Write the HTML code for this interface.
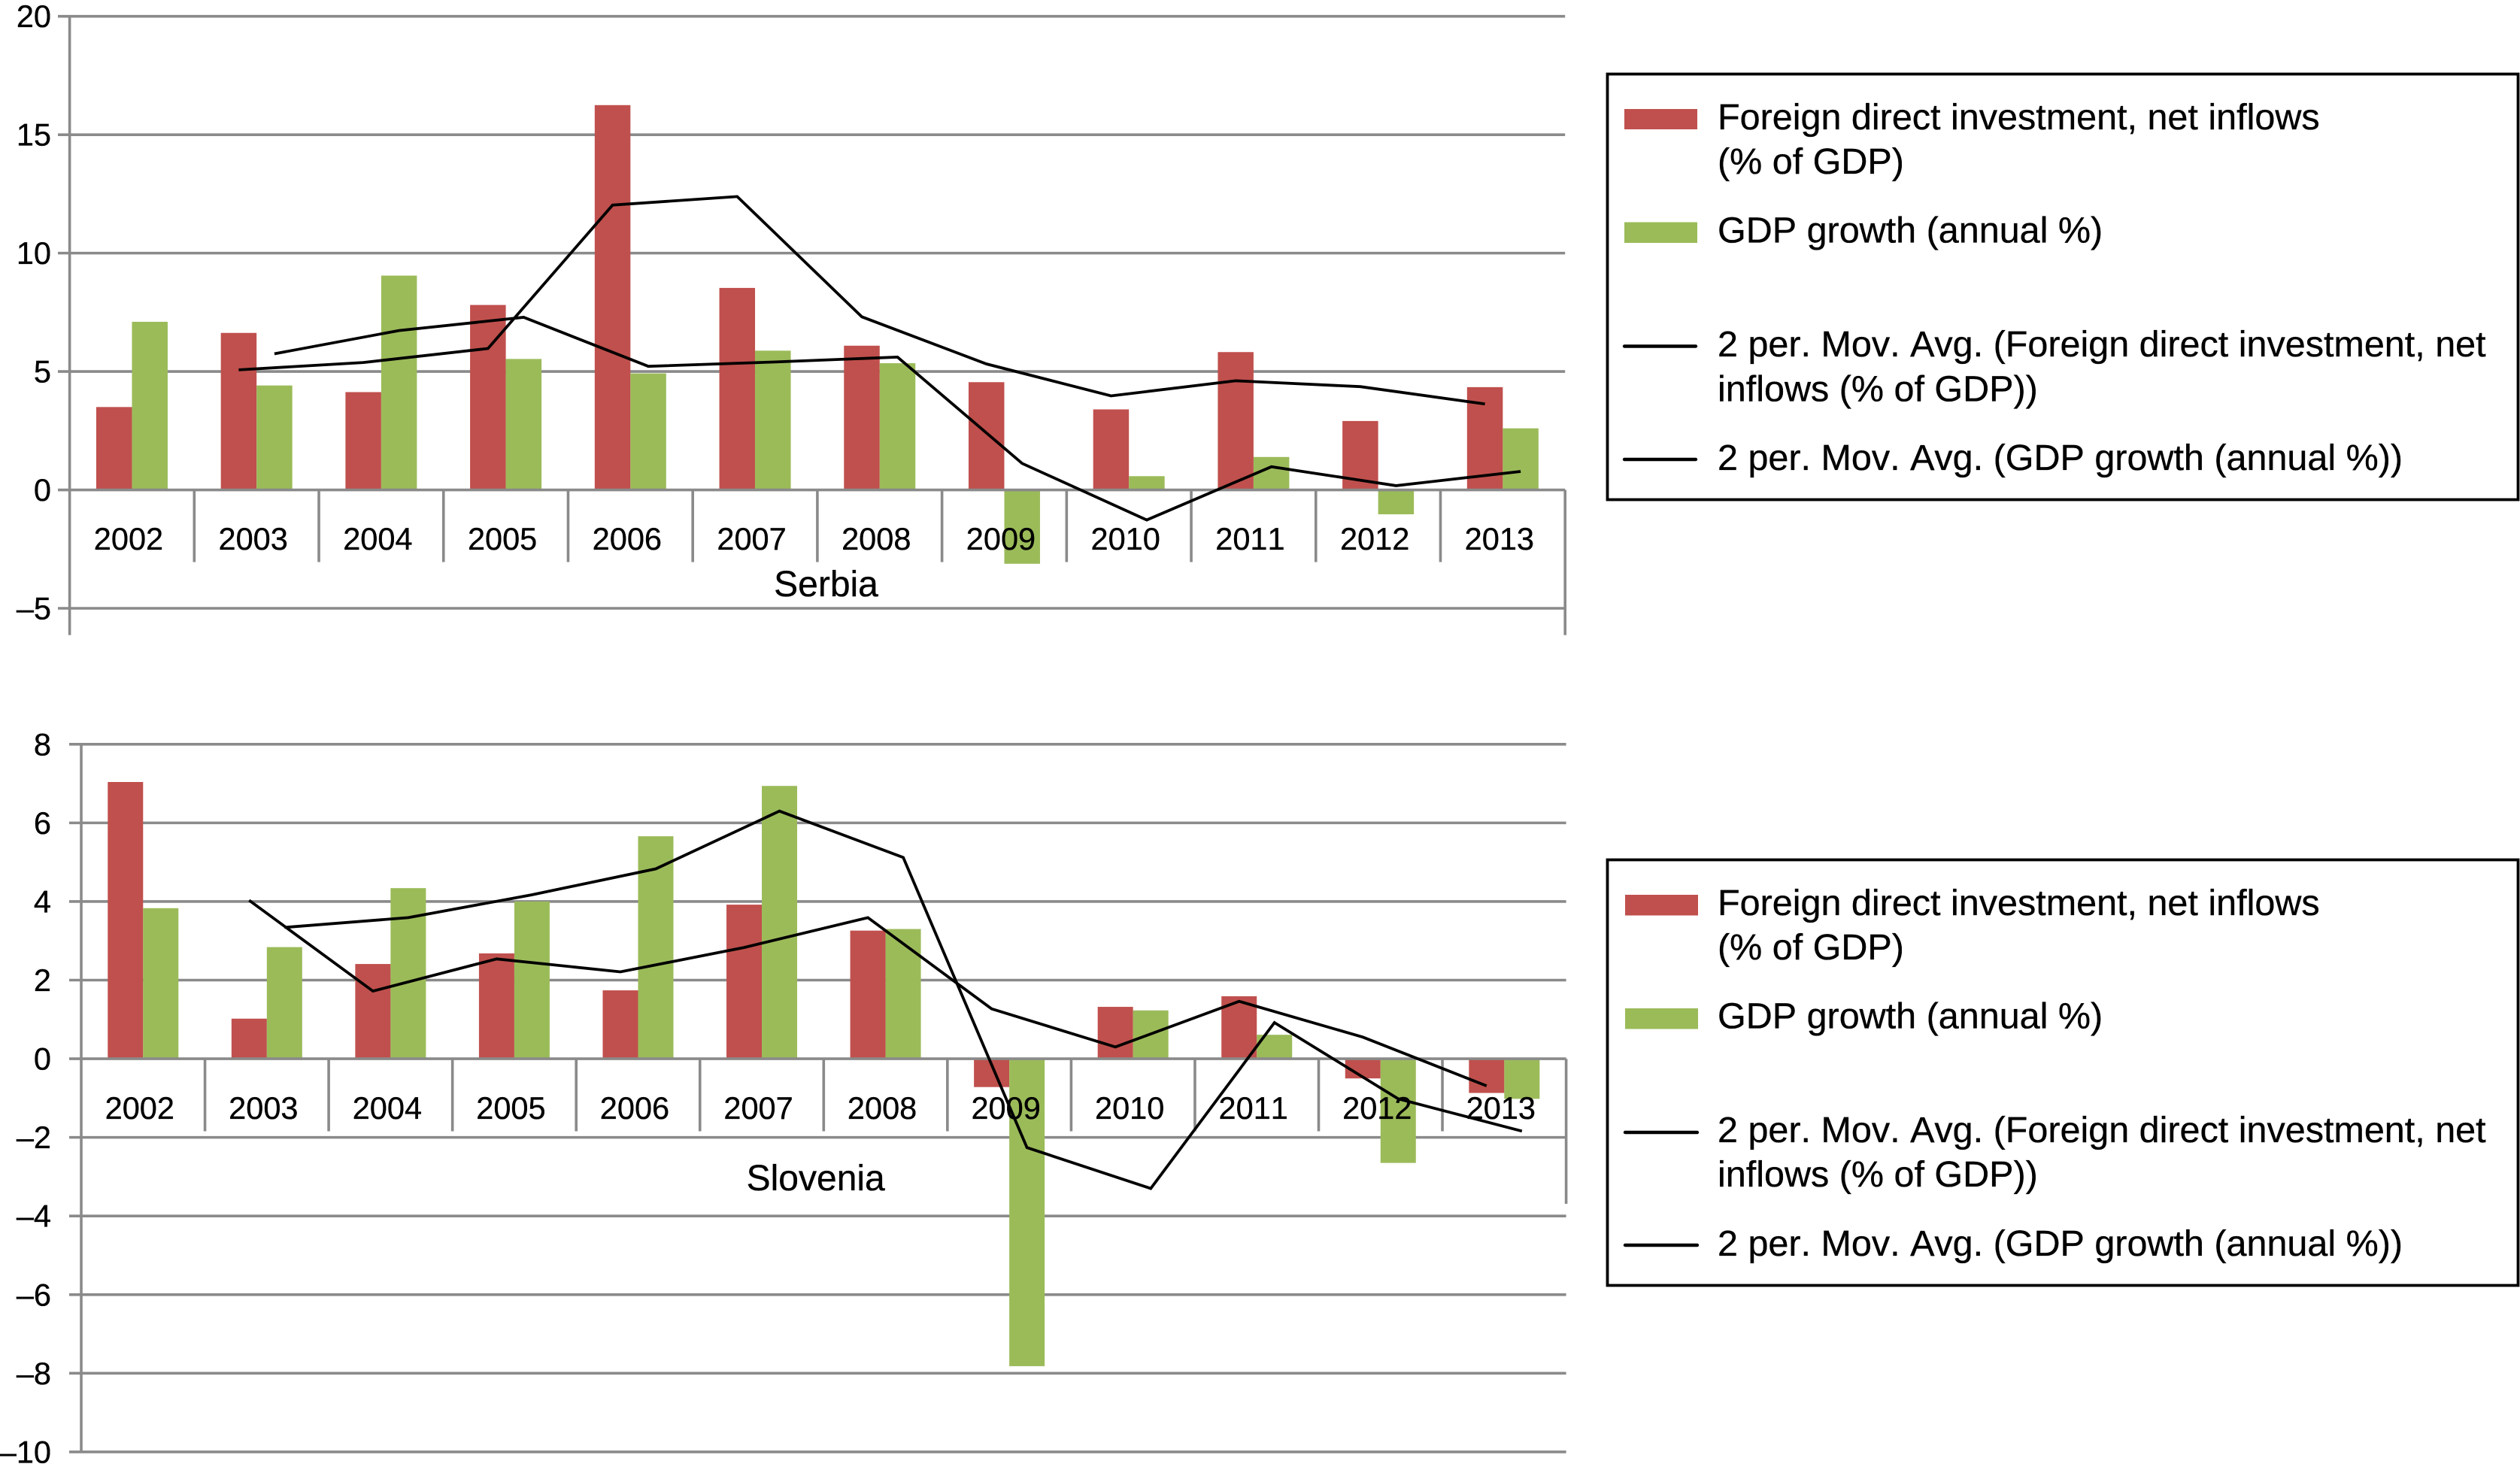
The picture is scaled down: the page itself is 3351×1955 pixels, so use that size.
<!DOCTYPE html>
<html lang="en">
<head>
<meta charset="utf-8">
<title>FDI and GDP growth: Serbia and Slovenia</title>
<style>
html,body{margin:0;padding:0;background:#fff;}
svg{display:block;font-family:"Liberation Sans",Arial,sans-serif;font-kerning:none;}
svg text{stroke:#000;stroke-width:0.35px;font-kerning:none;}
.leg{font-size:48.5px;fill:#000;}
</style>
</head>
<body>
<svg id="figure" xmlns="http://www.w3.org/2000/svg" width="3351" height="1955" viewBox="0 0 3351 1955">
  <rect x="0" y="0" width="3351" height="1955" fill="#ffffff"/>
  <g id="serbia-chart"></g>
  <g id="slovenia-chart"></g>

  <g>
    <rect x="2137.5" y="98.5" width="1211" height="566" fill="#fff" stroke="#000" stroke-width="3.8"/>
    <rect x="2160" y="145" width="97" height="27" fill="#c0504d"/>
    <text class="leg" x="2284" y="172">Foreign direct investment, net inflows</text>
    <text class="leg" x="2284" y="231">(% of GDP)</text>
    <rect x="2160" y="295.5" width="97" height="27.5" fill="#9bbb59"/>
    <text class="leg" x="2284" y="322.5">GDP growth (annual %)</text>
    <line x1="2160" x2="2255" y1="460.5" y2="460.5" stroke="#000" stroke-width="4.4" stroke-linecap="round"/>
    <text class="leg" x="2284" y="474">2 per. Mov. Avg. (Foreign direct investment, net</text>
    <text class="leg" x="2284" y="533.5">inflows (% of GDP))</text>
    <line x1="2160" x2="2255" y1="611" y2="611" stroke="#000" stroke-width="4.4" stroke-linecap="round"/>
    <text class="leg" x="2284" y="625">2 per. Mov. Avg. (GDP growth (annual %))</text>
  </g>

  <g>
    <rect x="2137.5" y="1143.5" width="1211" height="566" fill="#fff" stroke="#000" stroke-width="3.8"/>
    <rect x="2161" y="1190" width="97" height="27.5" fill="#c0504d"/>
    <text class="leg" x="2284" y="1217">Foreign direct investment, net inflows</text>
    <text class="leg" x="2284" y="1276">(% of GDP)</text>
    <rect x="2161" y="1341" width="97" height="27.5" fill="#9bbb59"/>
    <text class="leg" x="2284" y="1367.5">GDP growth (annual %)</text>
    <line x1="2161" x2="2257" y1="1506" y2="1506" stroke="#000" stroke-width="4.4" stroke-linecap="round"/>
    <text class="leg" x="2284" y="1519">2 per. Mov. Avg. (Foreign direct investment, net</text>
    <text class="leg" x="2284" y="1578">inflows (% of GDP))</text>
    <line x1="2161" x2="2257" y1="1656" y2="1656" stroke="#000" stroke-width="4.4" stroke-linecap="round"/>
    <text class="leg" x="2284" y="1670">2 per. Mov. Avg. (GDP growth (annual %))</text>
  </g>
</svg>

<script>
const categories = ["2002","2003","2004","2005","2006","2007","2008","2009","2010","2011","2012","2013"];

const serbiaTicks = [20, 15, 10, 5, 0, -5];
const serbiaFdi = [3.5, 6.63, 4.13, 7.81, 16.25, 8.53, 6.09, 4.55, 3.4, 5.82, 2.91, 4.34];
const serbiaGdp = [7.1, 4.41, 9.05, 5.53, 4.92, 5.88, 5.35, -3.12, 0.58, 1.39, -1.03, 2.6];
const serbiaFdiAvg = [null, 5.07, 5.38, 5.97, 12.03, 12.39, 7.31, 5.32, 3.97, 4.61, 4.36, 3.63];
const serbiaGdpAvg = [null, 5.75, 6.73, 7.29, 5.22, 5.4, 5.61, 1.12, -1.27, 0.98, 0.18, 0.78];

const sloveniaTicks = [8, 6, 4, 2, 0, -2, -4, -6, -8, -10];
const sloveniaFdi = [7.04, 1.02, 2.41, 2.68, 1.74, 3.92, 3.26, -0.72, 1.32, 1.59, -0.5, -0.87];
const sloveniaGdp = [3.83, 2.84, 4.34, 4.0, 5.66, 6.94, 3.3, -7.82, 1.23, 0.61, -2.65, -1.02];
const sloveniaFdiAvg = [null, 4.03, 1.72, 2.54, 2.21, 2.83, 3.59, 1.27, 0.3, 1.46, 0.55, -0.69];
const sloveniaGdpAvg = [null, 3.34, 3.59, 4.17, 4.83, 6.3, 5.12, -2.26, -3.3, 0.92, -1.02, -1.84];

const NS = "http://www.w3.org/2000/svg";
const GRID = "#8a8a8a";
const GRID_W = 3.6;
const AVG_W = 3.8;
const RED = "#c0504d";
const GREEN = "#9bbb59";

function make(parent, tag, props) {
  const el = document.createElementNS(NS, tag);
  for (const k in props) el.setAttribute(k, props[k]);
  parent.appendChild(el);
  return el;
}

function tickText(v) {
  return String(v).replace("-", "\u2013");
}

function drawChart(root, key, title, ticks, fdi, gdp, fdiAvg, gdpAvg, g) {
  const domainTop = ticks[0];
  const domainBottom = ticks[ticks.length - 1];
  const yScale = function (v) {
    return g.yTop + (domainTop - v) * (g.yBottom - g.yTop) / (domainTop - domainBottom);
  };
  const bandW = (g.xRight - g.xLeft) / categories.length;
  const xCenter = function (i) {
    return g.xLeft + bandW * (i + 0.5);
  };
  const zero = yScale(0);

  // gridlines behind the bars
  ticks.forEach(function (t) {
    if (t === 0) return;
    const gl = make(root, "line", { x1: g.tickLeft, x2: g.xRight, y1: yScale(t), y2: yScale(t), stroke: GRID, "stroke-width": GRID_W });
    
    
  });

  // bars
  categories.forEach(function (c, i) {
    const barFdi = make(root, "rect", {
      x: xCenter(i) - g.barW, width: g.barW,
      y: Math.min(yScale(fdi[i]), zero), height: Math.abs(yScale(fdi[i]) - zero), fill: RED
    });
    
    
    const barGdp = make(root, "rect", {
      x: xCenter(i), width: g.barW,
      y: Math.min(yScale(gdp[i]), zero), height: Math.abs(yScale(gdp[i]) - zero), fill: GREEN
    });
    
    
  });

  // axes
  const zeroLine = make(root, "line", { x1: g.tickLeft, x2: g.xRight, y1: zero, y2: zero, stroke: GRID, "stroke-width": GRID_W });
  
  
  const yAxis = make(root, "line", { x1: g.xLeft, x2: g.xLeft, y1: g.yTop - 1.5, y2: g.axisEnd, stroke: GRID, "stroke-width": GRID_W });
  
  
  const rightEdge = make(root, "line", { x1: g.xRight, x2: g.xRight, y1: zero, y2: g.rightEnd, stroke: GRID, "stroke-width": GRID_W });
  
  

  // category separators and labels
  categories.forEach(function (c, i) {
    if (i > 0) {
      const sep = make(root, "line", { x1: g.xLeft + bandW * i, x2: g.xLeft + bandW * i, y1: zero, y2: g.sepEnd, stroke: GRID, "stroke-width": GRID_W });
      
      
    }
    const lab = make(root, "text", { x: xCenter(i) - 4.5, y: g.catBase, "text-anchor": "middle", "font-size": 41.5, fill: "#000" });
    lab.textContent = c;
    
    
  });

  // y labels
  ticks.forEach(function (t) {
    const yl = make(root, "text", { x: 68, y: yScale(t) + 14.5, "text-anchor": "end", "font-size": 41.5, fill: "#000" });
    yl.textContent = tickText(t);
    
    
  });

  // group title
  const ttl = make(root, "text", { x: g.titleX, y: g.titleBase, "text-anchor": "middle", "font-size": 48, fill: "#000" });
  ttl.textContent = title;
  
  

  // moving-average lines, aligned on their own bar centres
  const avgPoints = function (series, offset) {
    const pts = [];
    series.forEach(function (v, i) {
      if (v !== null) pts.push((xCenter(i) + offset).toFixed(1) + "," + yScale(v).toFixed(1));
    });
    return pts.join(" ");
  };
  const lineFdi = make(root, "polyline", { points: avgPoints(fdiAvg, -g.barW / 2), fill: "none", stroke: "#000", "stroke-width": AVG_W });
  
  
  const lineGdp = make(root, "polyline", { points: avgPoints(gdpAvg, g.barW / 2), fill: "none", stroke: "#000", "stroke-width": AVG_W });
  
  
}

drawChart(document.getElementById("serbia-chart"), "serbia", "Serbia",
  serbiaTicks, serbiaFdi, serbiaGdp, serbiaFdiAvg, serbiaGdpAvg,
  { xLeft: 92.6, xRight: 2081.2, tickLeft: 77, yTop: 21.7, yBottom: 809, axisEnd: 844.6, rightEnd: 844.6, sepEnd: 747.5, barW: 47.5, catBase: 731, titleX: 1098.5, titleBase: 793 });

drawChart(document.getElementById("slovenia-chart"), "slovenia", "Slovenia",
  sloveniaTicks, sloveniaFdi, sloveniaGdp, sloveniaFdiAvg, sloveniaGdpAvg,
  { xLeft: 108, xRight: 2082.6, tickLeft: 92, yTop: 989.8, yBottom: 1930.9, axisEnd: 1932.4, rightEnd: 1601, sepEnd: 1504.5, barW: 47, catBase: 1488, titleX: 1084.7, titleBase: 1583 });
</script>
</body>
</html>
